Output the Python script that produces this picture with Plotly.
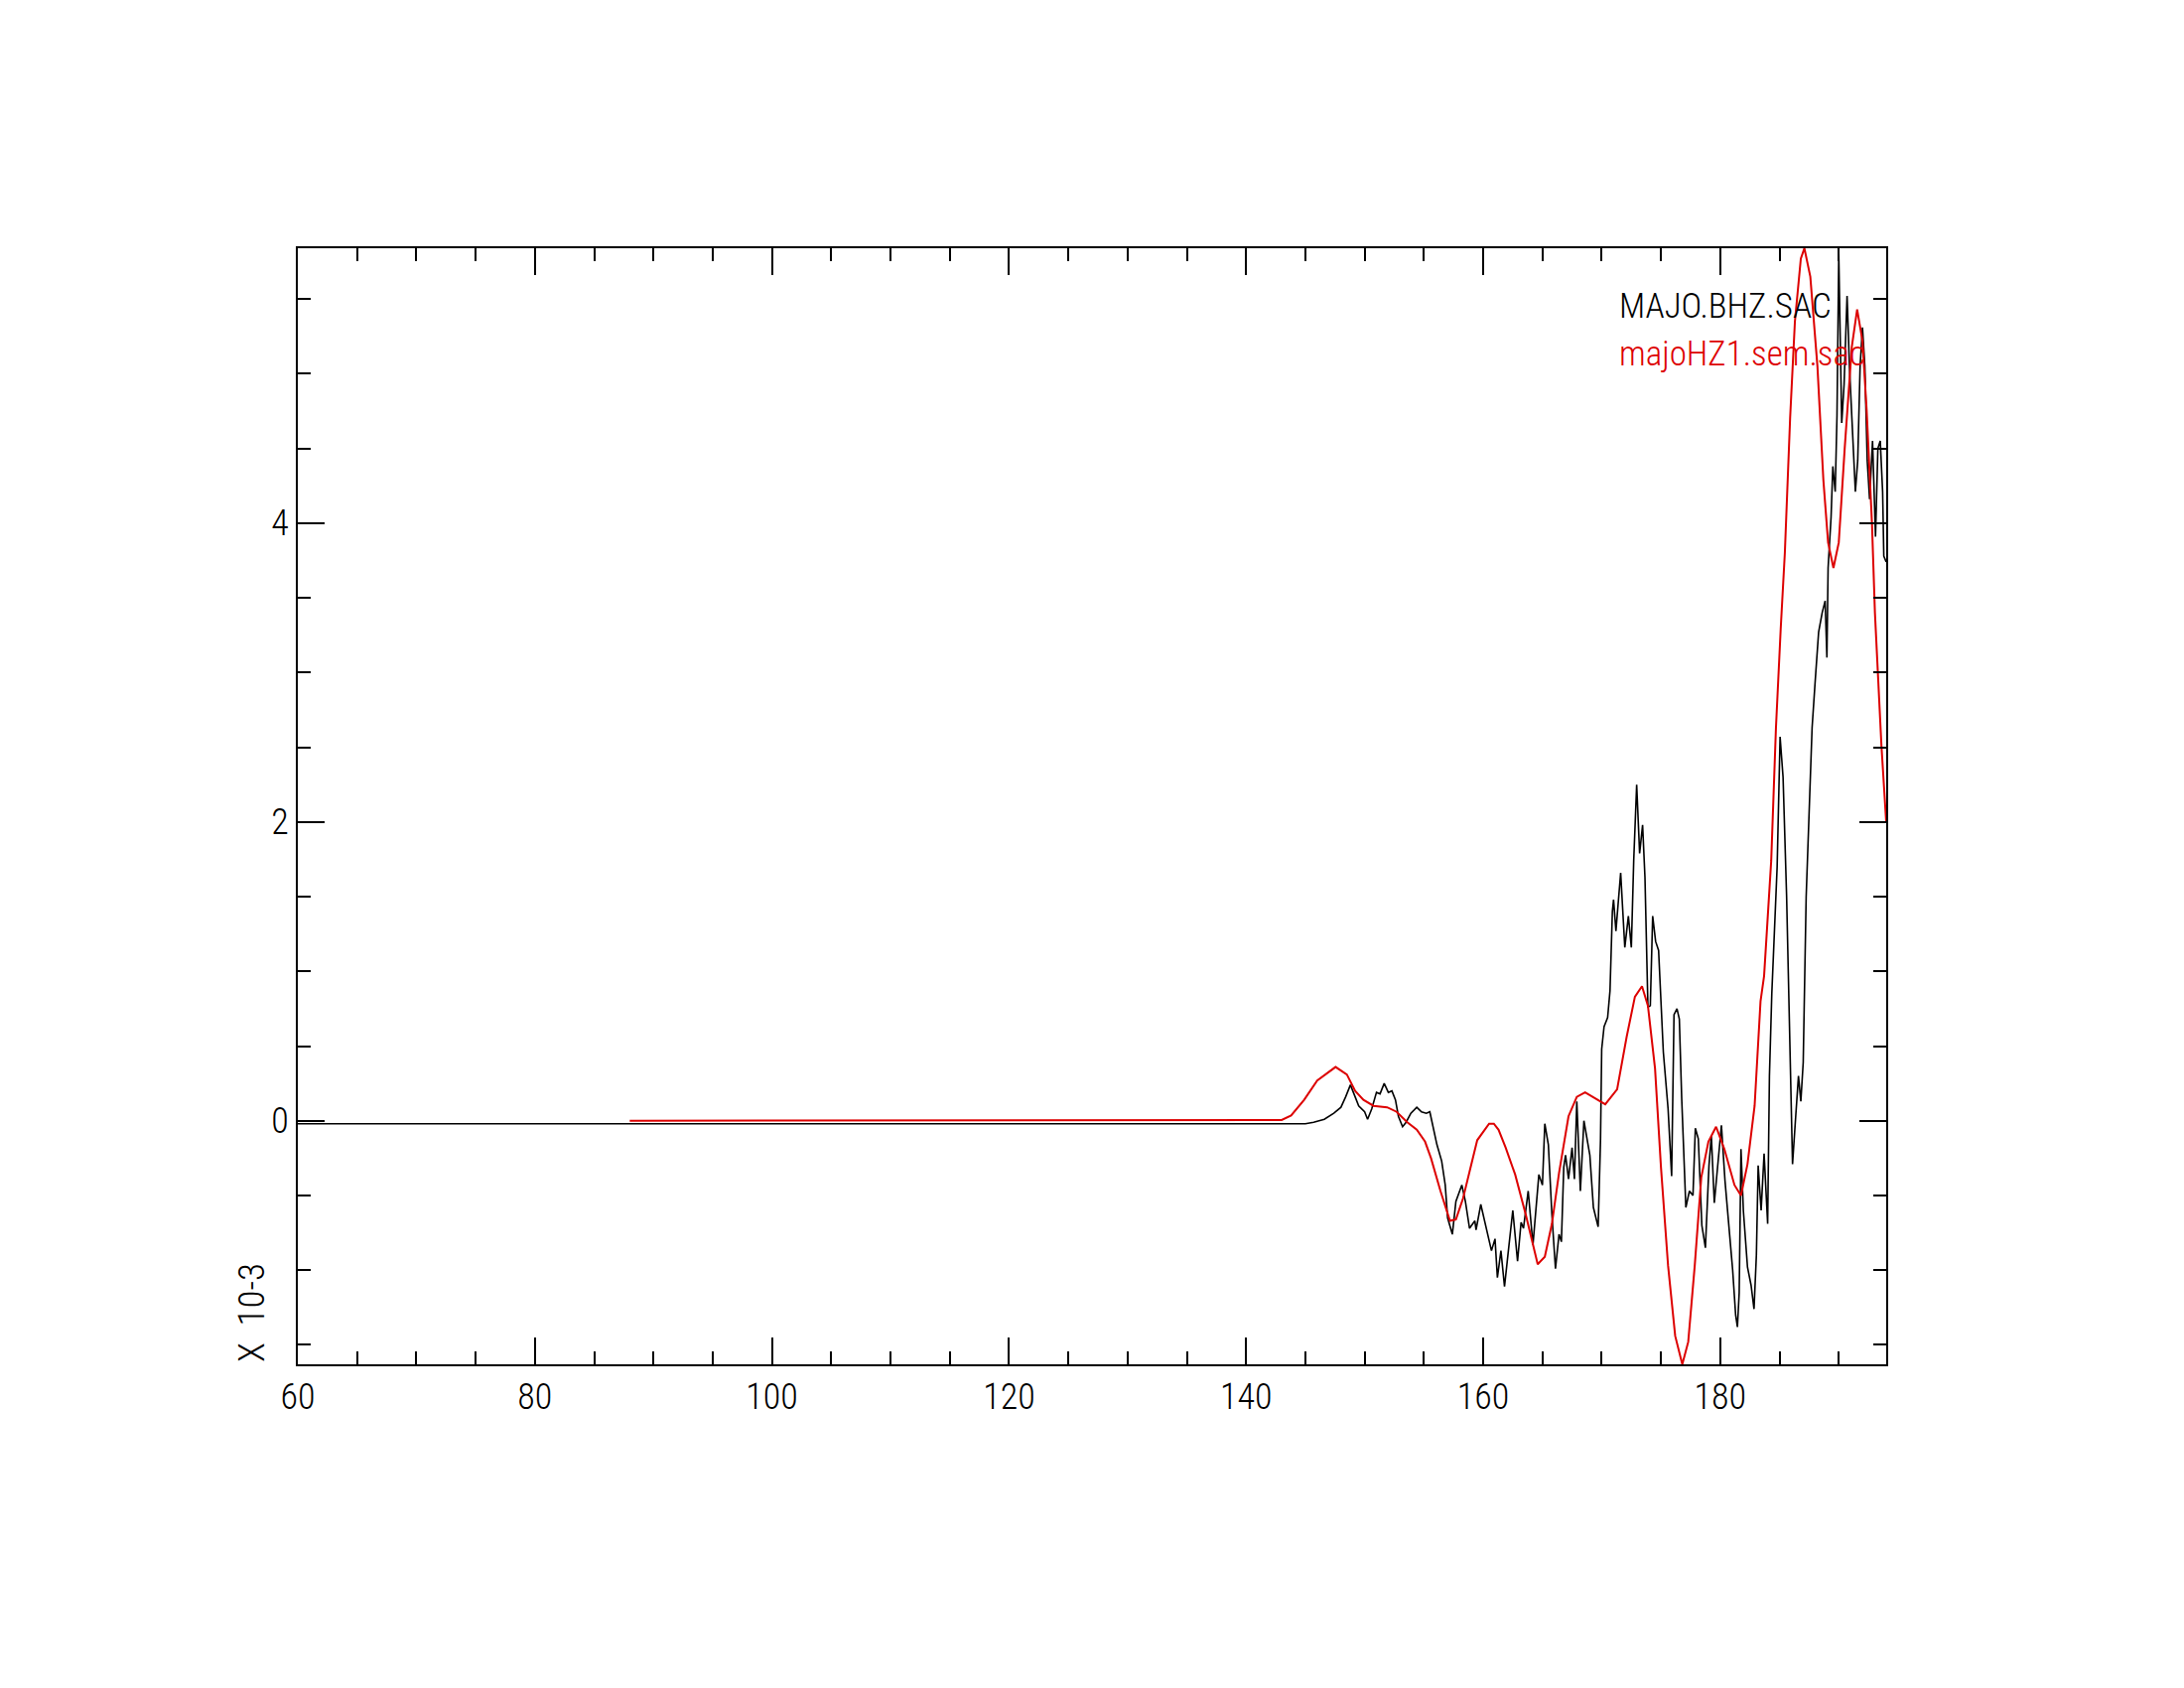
import plotly.graph_objects as go

# ---- data (time in s, amplitude in units of 1e-3) ----
obs_t = [60, 145.0, 145.7, 146.6, 147.4, 148.0, 148.4, 148.8, 149.2, 149.5, 150.0, 150.25, 150.6,
         151.0, 151.3, 151.65, 152.0, 152.3, 152.6, 152.85, 153.2, 153.5, 153.9, 154.4, 154.8,
         155.2, 155.5, 155.7, 156.1, 156.5, 156.8, 157.0, 157.4, 157.7, 158.2, 158.5, 158.85,
         159.3, 159.4, 159.8, 160.2, 160.7, 161.0, 161.2, 161.5, 161.8, 162.1, 162.5, 162.9,
         163.2, 163.4, 163.8, 164.2, 164.7, 165.0, 165.2, 165.5, 165.8, 166.1, 166.4, 166.6,
         166.8, 166.95, 167.2, 167.5, 167.7, 167.9, 168.2, 168.5, 168.8, 169.0, 169.3, 169.7,
         169.9, 170.0, 170.2, 170.5, 170.7, 170.9, 171.0, 171.2, 171.6, 171.95, 172.25, 172.5,
         172.7, 172.95, 173.2, 173.45, 173.65, 173.9, 174.1, 174.3, 174.55, 174.8, 175.2, 175.6,
         175.9, 176.1, 176.35, 176.55, 176.75, 177.1, 177.4, 177.7, 177.9, 178.15, 178.45,
         178.75, 179.05, 179.25, 179.5, 179.8, 180.1, 180.4, 180.8, 181.05, 181.3, 181.45,
         181.6, 181.75, 181.95, 182.3, 182.6, 182.85, 183.05, 183.2, 183.45, 183.7, 184.0,
         184.15, 184.35, 184.55, 184.8, 185.05, 185.3, 185.6, 185.9, 186.1, 186.35, 186.6,
         186.8, 187.0, 187.25, 187.5, 187.75, 188.0, 188.3, 188.6, 188.85, 189.0, 189.1,
         189.35, 189.5, 189.7, 189.85, 190.0, 190.1, 190.25, 190.45, 190.7, 190.9, 191.1,
         191.4, 191.6, 191.8, 192.0, 192.2, 192.4, 192.6, 192.85, 193.0, 193.1, 193.3, 193.5,
         193.7, 193.8, 194.0]
obs_v = [-0.02, -0.02, -0.01, 0.01, 0.05, 0.09, 0.16, 0.24, 0.16, 0.10, 0.06, 0.01, 0.08,
         0.19, 0.18, 0.25, 0.19, 0.20, 0.14, 0.03, -0.04, -0.01, 0.05, 0.09, 0.06,
         0.05, 0.06, -0.01, -0.16, -0.27, -0.43, -0.65, -0.76, -0.54, -0.43, -0.54, -0.72,
         -0.67, -0.73, -0.56, -0.69, -0.87, -0.79, -1.05, -0.87, -1.11, -0.89, -0.60, -0.94,
         -0.68, -0.72, -0.47, -0.83, -0.36, -0.43, -0.02, -0.16, -0.63, -0.99, -0.76, -0.81,
         -0.31, -0.23, -0.39, -0.18, -0.39, 0.13, -0.47, 0.0, -0.15, -0.23, -0.58, -0.71,
         -0.13, 0.48, 0.63, 0.69, 0.87, 1.40, 1.48, 1.27, 1.66, 1.16, 1.37, 1.16,
         1.74, 2.25, 1.79, 1.98, 1.63, 0.76, 0.77, 1.37, 1.20, 1.14, 0.46, 0.08,
         -0.37, 0.71, 0.75, 0.68, 0.15, -0.58, -0.47, -0.50, -0.05, -0.12, -0.70,
         -0.85, -0.30, -0.10, -0.55, -0.27, -0.03, -0.40, -0.78, -1.00, -1.30, -1.38,
         -1.15, -0.19, -0.60, -0.98, -1.10, -1.26, -0.90, -0.30, -0.60, -0.22, -0.69,
         0.30, 0.85, 1.20, 1.70, 2.57, 2.30, 1.50, 0.40, -0.29, 0.01, 0.30,
         0.13, 0.39, 1.50, 2.09, 2.63, 2.93, 3.27, 3.40, 3.48, 3.10, 3.70,
         4.04, 4.38, 4.21, 4.72, 5.80, 5.27, 4.67, 4.93, 5.52, 5.05, 4.72,
         4.21, 4.42, 5.05, 5.31, 5.05, 4.42, 4.16, 4.55, 4.08, 3.91, 4.50, 4.55,
         4.21, 3.78, 3.74]

syn_t = [88.0, 143.0, 143.8, 144.9, 146.0, 147.55, 148.5, 149.2, 149.9, 150.75, 151.9, 152.7,
         153.6, 154.4, 155.1, 155.6, 156.4, 157.2, 157.7, 158.3, 158.85, 159.5, 160.5, 160.9,
         161.3, 161.9, 162.7, 163.6, 164.6, 165.2, 165.8, 166.4, 167.2, 167.9, 168.6, 169.5,
         170.3, 171.3, 172.1, 172.8, 173.4, 173.9, 174.5, 175.0, 175.6, 176.2, 176.8, 177.3,
         177.85, 178.4, 179.0, 179.65, 180.35, 181.2, 181.75, 182.3, 182.9, 183.4, 183.7,
         184.3, 184.7, 185.1, 185.45, 185.9, 186.3, 186.8, 187.1, 187.6, 188.2, 188.7, 189.1,
         189.55, 190.0, 190.5, 191.1, 191.55, 192.0, 192.35, 192.8, 193.05, 193.6, 194.0]
syn_v = [0.0, 0.005, 0.035, 0.14, 0.27, 0.36, 0.31, 0.20, 0.14, 0.10, 0.09, 0.06,
         -0.01, -0.06, -0.14, -0.25, -0.47, -0.67, -0.66, -0.52, -0.34, -0.13, -0.02, -0.02,
         -0.06, -0.18, -0.36, -0.63, -0.96, -0.91, -0.69, -0.35, 0.03, 0.16, 0.19, 0.15,
         0.11, 0.21, 0.56, 0.83, 0.90, 0.77, 0.35, -0.31, -0.97, -1.44, -1.63, -1.48,
         -0.97, -0.38, -0.14, -0.04, -0.19, -0.43, -0.50, -0.29, 0.10, 0.80, 0.97,
         1.74, 2.63, 3.29, 3.80, 4.71, 5.35, 5.77, 5.84, 5.65, 5.05, 4.29, 3.87,
         3.70, 3.87, 4.50, 5.18, 5.43, 5.22, 4.76, 4.00, 3.40, 2.51, 2.00]

x_ticks = [60, 80, 100, 120, 140, 160, 180]
y_ticks = [0, 2, 4]
names = ["MAJO.BHZ.SAC", "majoHZ1.sem.sac"]
colors = ["#000000", "#dd0000"]

FONT = "Roboto Condensed, DejaVu Sans Condensed, sans-serif"

fig = go.Figure()
fig.add_trace(go.Scatter(x=obs_t, y=obs_v, mode="lines", name=names[0],
                         line=dict(color=colors[0], width=1.6)))
fig.add_trace(go.Scatter(x=syn_t, y=syn_v, mode="lines", name=names[1],
                         line=dict(color=colors[1], width=2)))

axis_common = dict(showline=True, linecolor="black", linewidth=2, mirror="ticks",
                   ticks="inside", ticklen=27, tickwidth=2, tickcolor="black",
                   showgrid=False, zeroline=False,
                   tickfont=dict(family=FONT, size=36, color="black", weight=300))

fig.update_xaxes(range=[60, 194], tickvals=x_ticks, ticktext=[str(v) for v in x_ticks],
                 minor=dict(dtick=5, tick0=60, ticks="inside", ticklen=13, tickwidth=2,
                            tickcolor="black", showgrid=False),
                 **axis_common)
fig.update_yaxes(range=[-1.63, 5.84], tickvals=y_ticks, ticktext=[str(v) for v in y_ticks],
                 minor=dict(dtick=0.5, tick0=0, ticks="inside", ticklen=13, tickwidth=2,
                            tickcolor="black", showgrid=False),
                 **axis_common)

fig.add_annotation(text=names[0], xref="paper", yref="paper", x=0.8306, y=0.948,
                   xanchor="left", yanchor="middle", showarrow=False,
                   font=dict(family=FONT, size=35, color=colors[0], weight=300))
fig.add_annotation(text=names[1], xref="paper", yref="paper", x=0.8306, y=0.905,
                   xanchor="left", yanchor="middle", showarrow=False,
                   font=dict(family=FONT, size=35, color=colors[1], weight=300))
fig.add_annotation(text="X  10-3", xref="paper", yref="paper", x=-0.0294, y=0,
                   xanchor="center", yanchor="bottom", textangle=-90, showarrow=False,
                   font=dict(family=FONT, size=37, color="black", weight=300))

fig.update_layout(width=2200, height=1700, autosize=False,
                  margin=dict(l=292, r=308, t=242, b=334, pad=0),
                  plot_bgcolor="white", paper_bgcolor="white", showlegend=False)

fig.write_html("out.html")
